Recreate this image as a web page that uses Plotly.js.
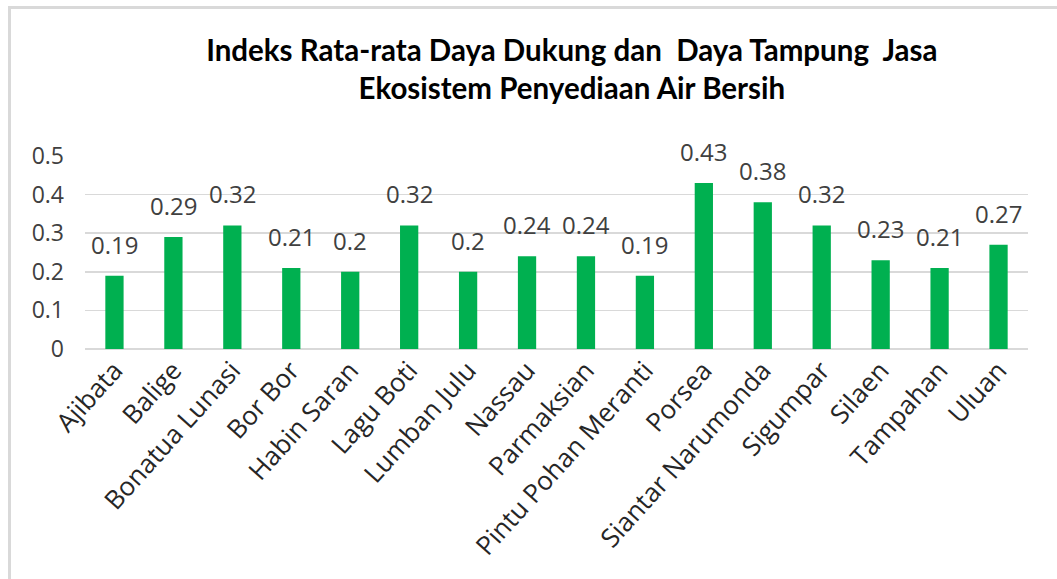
<!DOCTYPE html>
<html>
<head>
<meta charset="utf-8">
<script src="https://cdn.plot.ly/plotly-3.0.1.min.js"></script>
<style>
  html, body { margin: 0; padding: 0; background: #ffffff; }
  #frame { position: absolute; left: 0; top: 0; width: 1057px; height: 579px; overflow: hidden; }
  #border { position: absolute; left: 8px; top: 6px; width: 1060px; height: 600px;
            border-top: 3px solid #d9d9d9; border-left: 3px solid #d9d9d9; box-sizing: border-box; }
  #chart { position: absolute; left: 0; top: 0; width: 1057px; height: 579px; }
</style>
</head>
<body>
<div id="frame">
  <div id="chart"></div>
  <div id="border"></div>
</div>
<script>
const categories = ["Ajibata", "Balige", "Bonatua Lunasi", "Bor Bor", "Habin Saran", "Lagu Boti",
  "Lumban Julu", "Nassau", "Parmaksian", "Pintu Pohan Meranti", "Porsea", "Siantar Narumonda",
  "Sigumpar", "Silaen", "Tampahan", "Uluan"];
const values = [0.19, 0.29, 0.32, 0.21, 0.2, 0.32, 0.2, 0.24, 0.24, 0.19, 0.43, 0.38, 0.32, 0.23, 0.21, 0.27];
const yTickValues = [0, 0.1, 0.2, 0.3, 0.4, 0.5];
const yTickLabels = ["0", "0.1", "0.2", "0.3", "0.4", "0.5"];
const titleText = "Indeks Rata-rata Daya Dukung dan  Daya Tampung  Jasa<br>Ekosistem Penyediaan Air Bersih";

const trace = {
  type: "bar",
  x: categories,
  y: values,
  marker: { color: "#00b050" },
  width: 0.31,
  hoverinfo: "x+y"
};

const valueLabels = categories.map((c, i) => ({
  x: c,
  y: values[i],
  xref: "x",
  yref: "y",
  text: String(values[i]),
  showarrow: false,
  xanchor: "center",
  yanchor: "bottom",
  yshift: 13,
  font: { family: "Open Sans, sans-serif", size: 24, color: "#404040" }
}));

const layout = {
  width: 1057,
  height: 579,
  margin: { l: 85, r: 29, t: 156, b: 230 },
  paper_bgcolor: "rgba(0,0,0,0)",
  plot_bgcolor: "rgba(0,0,0,0)",
  showlegend: false,
  title: {
    text: titleText,
    font: { family: "Lato, sans-serif", size: 29.5, color: "#000000", weight: "bold" },
    xref: "container", x: 0.541, xanchor: "center",
    yref: "container", y: 0.895, yanchor: "top"
  },
  xaxis: {
    type: "category",
    tickangle: -48,
    tickfont: { family: "Open Sans, sans-serif", size: 26, color: "#262626" },
    showgrid: false,
    showline: false,
    ticks: "",
    zeroline: false
  },
  yaxis: {
    range: [0, 0.5],
    tickvals: yTickValues,
    ticktext: yTickLabels,
    tickfont: { family: "Open Sans, sans-serif", size: 23, color: "#404040" },
    showgrid: true,
    gridcolor: "#d9d9d9",
    gridwidth: 1.5,
    zeroline: true,
    zerolinecolor: "#d9d9d9",
    zerolinewidth: 1.5,
    showline: false,
    ticks: "",
    ticklabelstandoff: 20
  },
  annotations: valueLabels
};

Plotly.newPlot("chart", [trace], layout, { displayModeBar: false, staticPlot: true });
</script>
</body>
</html>
